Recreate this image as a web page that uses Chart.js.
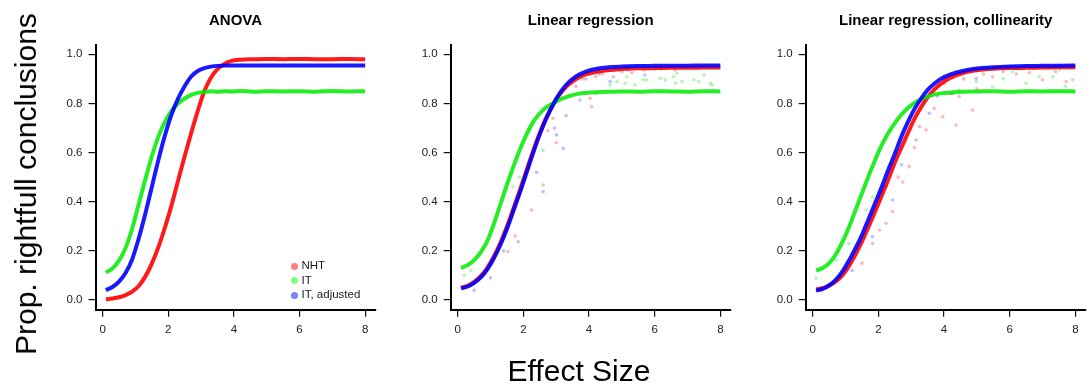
<!DOCTYPE html>
<html>
<head>
<meta charset="utf-8">
<script src="https://cdn.jsdelivr.net/npm/chart.js@4.4.1/dist/chart.umd.min.js"></script>
<style>
  html, body { margin: 0; padding: 0; background: #fff; }
  #page { position: relative; width: 1090px; height: 385px; overflow: hidden; font-family: "Liberation Sans", Arial, sans-serif; color: #000; }
  .panel { position: absolute; top: 0; width: 400px; height: 350px; }
  #ylab { position: absolute; left: 26px; top: 184px; transform: translate(-50%, -50%) rotate(-90deg); font-size: 30px; line-height: 30px; white-space: nowrap; }
  #xlab { position: absolute; left: 579px; top: 356px; transform: translateX(-50%); font-size: 30px; line-height: 30px; white-space: nowrap; }
  .leg { position: absolute; font-size: 11.5px; line-height: 14px; color: #1a1a1a; white-space: nowrap; }
  .leg .dot { display: inline-block; width: 7px; height: 7px; border-radius: 50%; margin-right: 4px; vertical-align: -0.5px; }
</style>
</head>
<body>
<div id="page">
  <div class="panel" style="left:36px"><canvas id="c1"></canvas></div>
  <div class="panel" style="left:391px"><canvas id="c2"></canvas></div>
  <div class="panel" style="left:746px"><canvas id="c3"></canvas></div>
  <div id="ylab">Prop. rightfull conclusions</div>
  <div id="xlab">Effect Size</div>
</div>
<script>
const effectSize = [0.1, 0.3, 0.5, 0.7, 0.9, 1.1, 1.3, 1.5, 1.7, 1.9, 2.1, 2.3, 2.5, 2.7, 2.9,
    3.1, 3.3, 3.5, 3.7, 3.9, 4.2, 4.6, 5.0, 5.5, 6.0, 6.5, 7.0, 7.5, 8.0];

const seriesNames = ['NHT', 'IT', 'IT, adjusted'];
const panelTitles = ['ANOVA', 'Linear regression', 'Linear regression, collinearity'];
const xTicks = [0, 2, 4, 6, 8];
const yTicks = [0, 0.2, 0.4, 0.6, 0.8, 1.0];

// ANOVA
const anovaNHT = [0.003, 0.006, 0.011, 0.02, 0.034, 0.057, 0.095, 0.148, 0.215, 0.295, 0.385, 0.485, 0.585, 0.68, 0.77,
    0.85, 0.905, 0.94, 0.96, 0.972, 0.978, 0.98, 0.981, 0.98, 0.981, 0.98, 0.98, 0.981, 0.98];
const anovaIT = [0.112, 0.128, 0.16, 0.212, 0.29, 0.39, 0.49, 0.585, 0.665, 0.725, 0.77, 0.8, 0.82, 0.835, 0.843,
    0.847, 0.85, 0.848, 0.85, 0.849, 0.851, 0.848, 0.85, 0.849, 0.85, 0.848, 0.851, 0.849, 0.85];
const anovaITadj = [0.04, 0.053, 0.075, 0.11, 0.165, 0.25, 0.35, 0.46, 0.57, 0.67, 0.755, 0.82, 0.87, 0.91, 0.932,
    0.944, 0.95, 0.953, 0.954, 0.955, 0.955, 0.955, 0.955, 0.955, 0.955, 0.955, 0.955, 0.955, 0.955];

// Linear regression
const lrNHT = [0.05, 0.058, 0.074, 0.097, 0.131, 0.177, 0.233, 0.299, 0.374, 0.45, 0.53, 0.608, 0.68, 0.743, 0.795,
    0.836, 0.868, 0.89, 0.907, 0.918, 0.928, 0.936, 0.94, 0.943, 0.944, 0.945, 0.945, 0.946, 0.946];
const lrIT = [0.13, 0.142, 0.162, 0.195, 0.24, 0.31, 0.39, 0.47, 0.545, 0.615, 0.675, 0.725, 0.76, 0.785, 0.8,
    0.815, 0.826, 0.834, 0.84, 0.843, 0.846, 0.848, 0.849, 0.848, 0.85, 0.849, 0.848, 0.85, 0.849];
const lrITadj = [0.047, 0.055, 0.07, 0.092, 0.125, 0.17, 0.225, 0.29, 0.365, 0.44, 0.52, 0.6, 0.675, 0.74, 0.795,
    0.84, 0.875, 0.9, 0.918, 0.93, 0.94, 0.947, 0.95, 0.952, 0.953, 0.954, 0.954, 0.955, 0.955];
const lrOutNHT = [[1.53, 0.197], [1.75, 0.26], [2.25, 0.366], [2.6, 0.468], [2.75, 0.69], [2.9, 0.74], [3.0, 0.64],
    [3.4, 0.83], [3.6, 0.87], [3.8, 0.9], [4.03, 0.821], [4.08, 0.787], [4.2, 0.91], [4.4, 0.92], [4.74, 0.909],
    [5.0, 0.93], [5.3, 0.925], [5.66, 0.936], [6.2, 0.94], [6.63, 0.936]];
const lrOutIT = [[0.2, 0.10], [0.4, 0.12], [1.68, 0.461], [1.88, 0.5], [2.6, 0.61], [4.23, 0.84], [4.64, 0.875],
    [4.85, 0.889], [5.1, 0.882], [5.15, 0.909], [5.4, 0.875], [5.66, 0.896], [5.76, 0.895], [6.17, 0.902],
    [6.32, 0.895], [6.58, 0.909], [6.63, 0.882], [6.68, 0.923], [6.83, 0.889], [7.19, 0.896], [7.34, 0.889],
    [7.5, 0.916], [7.7, 0.882], [7.75, 0.875]];
const lrOutITadj = [[0.5, 0.04], [1.0, 0.09], [1.4, 0.2], [1.84, 0.237], [2.4, 0.52], [2.6, 0.441], [2.95, 0.7],
    [3.01, 0.672], [3.21, 0.617], [3.3, 0.75], [3.72, 0.814], [3.9, 0.9], [4.3, 0.92], [4.64, 0.889],
    [5.2, 0.935], [5.7, 0.916], [6.0, 0.94]];

// Linear regression, collinearity
const colNHT = [0.044, 0.048, 0.058, 0.075, 0.1, 0.138, 0.185, 0.238, 0.298, 0.36, 0.425, 0.49, 0.56, 0.62, 0.68,
    0.738, 0.785, 0.825, 0.856, 0.88, 0.905, 0.925, 0.935, 0.941, 0.944, 0.945, 0.946, 0.947, 0.947];
const colIT = [0.12, 0.13, 0.15, 0.185, 0.235, 0.295, 0.365, 0.435, 0.505, 0.57, 0.63, 0.68, 0.72, 0.755, 0.782,
    0.802, 0.817, 0.828, 0.836, 0.841, 0.845, 0.848, 0.849, 0.85, 0.848, 0.85, 0.849, 0.85, 0.849];
const colITadj = [0.038, 0.045, 0.06, 0.082, 0.115, 0.16, 0.21, 0.265, 0.33, 0.395, 0.46, 0.53, 0.595, 0.665, 0.725,
    0.778, 0.82, 0.855, 0.88, 0.9, 0.918, 0.933, 0.942, 0.947, 0.95, 0.952, 0.953, 0.954, 0.955];
const colOutNHT = [[1.5, 0.15], [1.82, 0.23], [2.03, 0.285], [2.23, 0.312], [2.43, 0.36], [2.6, 0.5], [2.74, 0.48],
    [2.94, 0.543], [3.1, 0.62], [3.25, 0.706], [3.45, 0.692], [3.7, 0.78], [3.96, 0.746], [4.0, 0.88], [4.2, 0.84],
    [4.36, 0.712], [4.46, 0.828], [4.6, 0.9], [4.87, 0.773], [5.0, 0.86], [5.2, 0.92], [5.48, 0.909],
    [5.8, 0.93], [6.2, 0.92], [6.6, 0.925], [7.0, 0.896], [7.4, 0.93], [7.72, 0.889]];
const colOutIT = [[0.1, 0.088], [0.71, 0.163], [1.1, 0.23], [1.62, 0.366], [1.82, 0.42], [4.46, 0.855], [4.98, 0.889],
    [5.48, 0.868], [5.8, 0.9], [6.09, 0.929], [6.5, 0.882], [6.9, 0.91], [7.31, 0.909], [7.52, 0.936],
    [7.7, 0.87], [7.92, 0.896]];
const colOutITadj = [[1.2, 0.12], [1.82, 0.258], [2.23, 0.461], [2.43, 0.407], [2.7, 0.55], [3.15, 0.651],
    [3.55, 0.76], [3.8, 0.83], [4.26, 0.841], [4.98, 0.902]];

const lineColors = ['rgba(255,0,0,0.9)', 'rgba(0,235,0,0.85)', 'rgba(0,0,255,0.9)'];
const dotColors = ['rgba(255,0,0,0.28)', 'rgba(0,230,0,0.3)', 'rgba(0,0,255,0.25)'];
const legendColors = ['rgba(255,0,0,0.5)', 'rgba(0,255,0,0.5)', 'rgba(0,0,255,0.5)'];

Chart.defaults.font.family = '"Liberation Sans", Arial, sans-serif';

const PANEL_W = 400;
const PLOT_W = 280;

function toPoints(values) {
    return effectSize.map((x, i) => ({ x: x, y: values[i] }));
}

function makePanel(canvasId, title, curves, outliers, yAxisWidth) {
    const datasets = [];
    // blue drawn on top, then green, then red
    [2, 1, 0].forEach((s) => {
        datasets.push({
            label: seriesNames[s],
            data: toPoints(curves[s]),
            showLine: true,
            borderColor: lineColors[s],
            borderWidth: 4,
            pointRadius: 0,
            cubicInterpolationMode: 'monotone',
        });
    });
    if (outliers) {
        [2, 1, 0].forEach((s) => {
            datasets.push({
                label: seriesNames[s] + ' runs',
                data: outliers[s].map((p) => ({ x: p[0], y: p[1] })),
                showLine: false,
                pointRadius: 1.8,
                borderWidth: 0,
                backgroundColor: dotColors[s],
            });
        });
    }

    const axisStyle = {
        grid: { drawOnChartArea: false, drawTicks: true, tickLength: 7, color: '#111', lineWidth: 1.2 },
        border: { display: true, color: '#000', width: 2 },
    };

    return new Chart(document.getElementById(canvasId), {
        type: 'scatter',
        data: { datasets: datasets },
        options: {
            responsive: true,
            maintainAspectRatio: false,
            animation: false,
            layout: { padding: { left: 0, top: 0, bottom: 0, right: PANEL_W - yAxisWidth - PLOT_W } },
            plugins: {
                legend: { display: false },
                tooltip: { enabled: false },
                title: {
                    display: true,
                    fullSize: false,
                    text: title,
                    color: '#000',
                    font: { size: 15, weight: 'bold', lineHeight: 1 },
                    padding: { top: 13, bottom: 16.5 },
                },
            },
            scales: {
                x: {
                    ...axisStyle,
                    min: -0.216,
                    max: 8.316,
                    afterBuildTicks: (scale) => { scale.ticks = xTicks.map((v) => ({ value: v })); },
                    afterFit: (scale) => { scale.height = 40.2; },
                    ticks: { color: '#222', font: { size: 11.5 }, padding: 6, callback: (v) => String(v) },
                },
                y: {
                    ...axisStyle,
                    min: -0.04,
                    max: 1.04,
                    afterBuildTicks: (scale) => { scale.ticks = yTicks.map((v) => ({ value: v })); },
                    afterFit: (scale) => { scale.width = yAxisWidth; },
                    ticks: { color: '#222', font: { size: 11.5 }, padding: 6, callback: (v) => v.toFixed(1) },
                },
            },
        },
    });
}

makePanel('c1', panelTitles[0], [anovaNHT, anovaIT, anovaITadj], null, 59.5);
makePanel('c2', panelTitles[1], [lrNHT, lrIT, lrITadj], [lrOutNHT, lrOutIT, lrOutITadj], 59.7);
makePanel('c3', panelTitles[2], [colNHT, colIT, colITadj], [colOutNHT, colOutIT, colOutITadj], 59.7);

// legend inside the ANOVA panel
const page = document.getElementById('page');
seriesNames.forEach((name, i) => {
    const row = document.createElement('div');
    row.className = 'leg';
    row.style.left = '290.5px';
    row.style.top = (258 + i * 14.5) + 'px';
    row.innerHTML = '<span class="dot" style="background:' + legendColors[i] + '"></span>' + name;
    page.appendChild(row);
});
</script>
</body>
</html>
